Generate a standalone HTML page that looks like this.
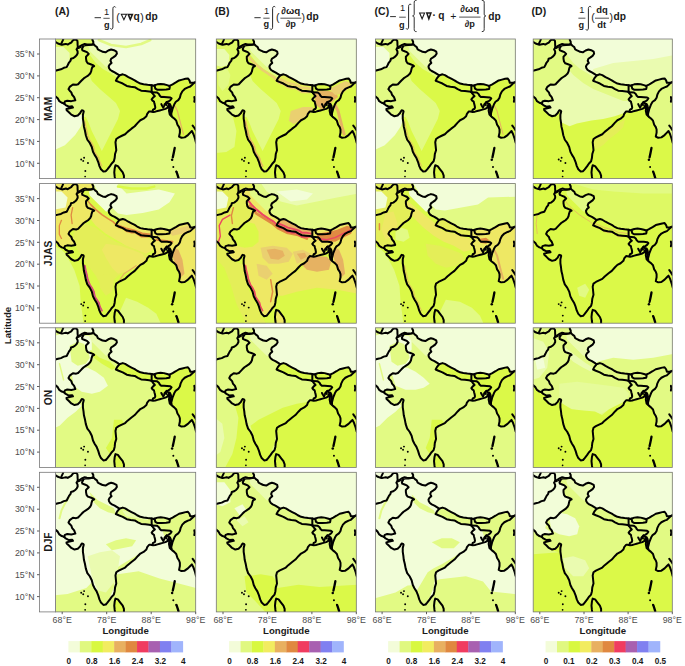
<!DOCTYPE html><html><head><meta charset="utf-8"><style>html,body{margin:0;padding:0;background:#fff;}svg{display:block;}text{font-family:"Liberation Sans",sans-serif;}</style></head><body>
<svg width="685" height="666" viewBox="0 0 685 666">
<rect width="685" height="666" fill="#fff"/>
<defs>
<g id="ol" fill="none" stroke="#000" stroke-width="2.0" stroke-linejoin="round" stroke-linecap="round">
<polyline points="-0.2,2.7 2.4,4.5 4.6,5.3 6.4,5.8 8.6,5.3 10.3,4.9 12.1,5.6 13.8,4.5 15.6,3.6 16.9,1.8 18.2,0.7 20.4,0.5 21.7,1.8 21.9,3.6 21.9,5.3 22.1,7.5 22.2,8.6"/>
<polyline points="5.5,5.1 7.0,1.8 7.7,0.1"/>
<polyline points="22.2,8.6 20.9,10.4 21.9,12.3 22.0,14.2 21.1,16.0 19.9,17.4 17.8,19.0 15.4,19.7 15.0,21.5 13.4,23.5 12.2,26.0 11.1,28.1 8.3,28.8 5.4,30.3 2.6,31.0 -0.2,31.7"/>
<polyline points="22.2,8.6 24.5,7.2 26.7,5.9 29.0,5.0 31.2,5.4 33.5,5.6 35.7,5.4 37.5,5.0 39.3,6.8 41.1,8.1 42.0,10.4 43.8,11.3 45.6,12.2 46.8,12.8 49.6,13.3 52.4,11.5 55.2,10.5 58.0,11.2 60.5,12.6 60.9,14.7 59.4,16.8 57.3,18.3 55.2,19.7 54.5,21.8 55.6,23.9 53.8,25.5 52.8,27.2 53.1,29.0 54.2,30.7 56.0,32.0 58.7,33.3 61.9,35.3 63.3,36.4 66.7,35.3 69.1,36.1 72.3,38.1 75.4,39.7 78.6,41.3 81.0,42.9 84.2,44.5 87.4,45.2 91.4,45.7 95.6,46.1 97.1,46.7 98.7,46.1 101.1,45.3 104.3,44.9 107.5,45.3 110.7,46.1 113.1,46.9 116.2,45.3 119.4,43.4 122.6,41.4 125.8,40.6 129.0,39.8 131.4,39.4 132.9,41.4 133.7,43.8 136.1,43.8 138.5,43.4 139.8,43.0"/>
<polyline points="37.5,5.0 37.5,2.7 36.6,0.9 36.6,0.0"/>
<polyline points="22.8,9.4 25.3,8.2 27.6,7.2 29.8,6.6 32.8,6.5 35.8,6.2 37.5,5.8" stroke-width="1.2"/>
<polyline points="27.6,7.4 26.3,9.9 26.7,11.3 29.0,12.2 31.2,13.1 33.0,14.9 31.7,16.2 30.3,17.6 30.3,19.8 30.8,22.5 32.1,24.3 34.8,25.2 37.1,26.1 38.4,27.0 36.5,28.1 35.8,30.3 35.4,32.4 34.4,34.5 32.3,36.6 30.1,38.0 28.0,39.4 25.9,41.5 24.0,43.5 22.4,45.2 20.5,45.8 17.3,45.4 14.1,47.8 12.9,50.2 14.1,51.7 15.7,53.3 16.5,55.7 18.5,58.1 19.7,61.3 15.7,62.1 11.7,61.7 9.3,62.5 8.6,64.5"/>
<polyline points="-0.2,57.3 2.2,59.3 3.8,62.1 6.2,63.7 8.6,64.5"/>
<polyline points="8.6,64.5 10.1,66.1 13.3,67.7 16.5,67.3 17.3,68.5 14.1,69.2 10.9,70.0 11.1,71.2 13.3,73.2 15.7,75.6 18.9,77.2 22.1,76.4 24.5,74.0 25.3,72.4 26.1,71.2 27.6,71.6 28.0,72.4 27.2,75.6 27.2,79.6 27.8,83.6 28.2,87.4 29.2,91.4 30.1,96.2 31.6,100.7 34.0,103.9 36.0,107.9 37.2,112.7 38.8,115.8 40.8,119.0 42.4,123.0 43.6,127.0 45.1,130.2 47.5,132.5 49.9,132.1 51.5,130.2 54.0,127.0 55.6,124.6 57.9,122.2 58.7,119.0 59.1,115.0 60.3,111.1 59.9,107.1 59.5,103.1 60.3,99.9 62.7,98.3 65.9,96.7 69.1,95.2 71.5,92.8 75.4,89.6 78.6,87.2 81.8,83.6 84.2,81.2 87.4,79.6 90.2,77.2 91.0,74.8 92.9,72.4 94.3,72.5 96.8,73.0 99.0,72.6 101.2,72.0 103.4,71.4 105.6,70.8 109.1,69.8 111.0,68.8 111.8,66.7 112.4,65.2 113.2,66.7 113.0,68.6 112.6,71.7 113.4,75.6 115.6,77.8 117.8,79.5 119.8,81.6 121.0,85.7 122.6,88.1 123.4,90.4 123.4,93.6 122.6,97.5 125.0,98.7 128.2,98.3 131.4,96.0 133.7,93.6 135.3,92.0 136.9,95.2 138.5,99.9 139.3,103.1 139.8,104.2"/>
<polyline points="95.4,53.1 96.3,54.4 97.7,56.2 98.6,57.1 96.8,58.5 95.4,60.3 96.3,61.6 97.7,62.5 98.1,64.3 98.6,66.1 99.0,68.4 98.6,69.7 96.8,70.6 96.3,72.0"/>
<polyline points="95.4,46.1 95.4,49.2 95.4,53.1"/>
<polyline points="63.3,36.4 62.7,37.3 61.1,39.3 59.9,41.7 62.7,42.9 66.7,44.5 70.7,46.9 74.6,47.7 78.6,48.1 81.8,50.0 85.0,51.6 89.0,52.0 92.9,52.4 95.4,52.8"/>
<polyline points="98.3,46.4 98.6,47.7 99.0,49.5 100.8,50.6 105.3,50.6 109.8,50.4 113.0,49.9 113.4,48.1 113.1,46.9"/>
<polyline points="95.4,53.1 100.8,53.5 102.6,54.9 103.5,56.7 104.9,58.0 107.6,58.0 110.7,58.2 113.9,58.5 115.2,59.4 113.9,61.2 112.1,62.5 110.3,63.0 109.4,64.3 109.8,66.1"/>
<polyline points="105.0,65.1 105.8,66.7 107.0,68.7 107.8,66.7 108.3,65.2 109.4,64.3"/>
<polyline points="110.3,63.0 111.6,64.3 113.4,64.8 114.3,66.6 114.8,68.8 114.3,71.5 114.3,74.2 115.0,76.4"/>
<polyline points="139.3,42.8 137.7,43.6 135.3,46.0 133.7,47.5 131.4,48.3 128.2,49.9 125.8,52.3 124.2,55.5 123.4,58.7 121.8,61.1 119.4,62.7 117.9,65.2 117.0,67.5 116.1,69.7 115.7,71.5 115.2,73.3 114.8,75.1 115.0,76.4"/>
<polyline points="137.7,57.9 138.1,60.2 137.7,62.7"/>
<polyline points="136.1,86.5 137.7,88.7 139.3,91.2"/>
<polyline points="67.9,139.7 67.9,136.5 66.7,133.3 64.3,130.2 61.9,127.0 59.5,126.2 58.7,129.4 58.3,133.3 58.7,137.3 59.1,140.2"/>
<polyline points="118.3,108.8 117.4,113.5 116.4,118.2" stroke-width="2.3"/>
<polyline points="120.1,132.8 121.1,135.7 122.0,138.7" stroke-width="2.3"/>
<circle cx="28.4" cy="118.7" r="0.95" fill="#000" stroke="none"/>
<circle cx="25.5" cy="120.4" r="0.95" fill="#000" stroke="none"/>
<circle cx="27.5" cy="121.8" r="0.95" fill="#000" stroke="none"/>
<circle cx="32.2" cy="123.9" r="0.95" fill="#000" stroke="none"/>
<circle cx="29.6" cy="131.9" r="0.95" fill="#000" stroke="none"/>
<circle cx="29.4" cy="137.4" r="0.85" fill="#000" stroke="none"/>
<circle cx="115.7" cy="120.6" r="1.25" fill="#000" stroke="none"/>
<circle cx="116.9" cy="127.8" r="1.0" fill="#000" stroke="none"/>
<circle cx="119.8" cy="132.4" r="1.0" fill="#000" stroke="none"/>
</g>
<polygon id="zTIB" points="37,-1 141,-1 141,43 139.1,43 136,44 134,44 133,41 131,39 129,40 126,41 123,41 119,43 116,45 113,47 111,46 108,45 104,45 101,45 99,46 97,47 96,46 91,46 87,45 84,44 81,43 79,41 75,40 72,38 69,36 67,35 63,36 62,35 59,33 56,32 54,31 53,29 53,27 54,26 56,24 54,22 55,20 57,18 59,17 61,15 60,13 58,11 55,10 52,12 50,13 47,13 46,12 44,11 42,10 41,8 39,7 38,5 38,3"/>
<clipPath id="kTIB"><use href="#zTIB"/></clipPath>
<polygon id="zNW" points="-1,-1 37,-1 38,3 38,5 36,5 34,6 31,5 29,5 28,7 26,10 27,11 29,12 31,13 33,15 32,16 30,18 30,20 31,22 32,24 35,25 37,26 38,27 36,28 36,30 35,32 34,34 32,37 30,38 28,39 26,42 24,44 22,45 20,46 17,45 14,48 13,50 14,52 16,53 16,56 18,58 20,61 16,62 12,62 9,62 9,64 6,64 4,62 2,59 -1,57"/>
<clipPath id="kNW"><use href="#zNW"/></clipPath>
<polygon id="zIND" points="28,7 29,5 31,5 34,6 36,5 38,5 39,7 41,8 42,10 44,11 46,12 47,13 50,13 52,12 55,10 58,11 60,13 61,15 59,17 57,18 55,20 54,22 56,24 54,26 53,27 53,29 54,31 56,32 59,33 62,35 63,36 63,37 61,39 60,42 63,43 67,44 71,47 75,48 79,48 82,50 85,52 89,52 93,52 95,53 96,54 98,56 99,57 97,58 95,60 96,62 98,62 98,64 99,66 99,68 99,70 97,71 96,72 94,72 93,72 91,75 90,77 87,80 84,81 82,84 79,87 75,90 72,93 69,95 66,97 63,98 60,100 60,103 60,107 60,111 59,115 59,119 58,122 56,125 54,127 52,130 50,132 48,132 45,130 44,127 42,123 41,119 39,116 37,113 36,108 34,104 32,101 30,96 29,91 28,87 28,84 27,80 27,76 28,72 26,71 25,72 24,74 22,76 19,77 16,76 13,73 11,71 11,70 14,69 17,68 16,67 13,68 10,66 9,64 9,62 12,62 16,62 20,61 18,58 16,56 16,53 14,52 13,50 14,48 17,45 20,46 22,45 24,44 26,42 28,39 30,38 32,37 34,34 35,32 36,30 36,28 38,27 37,26 35,25 32,24 31,22 30,20 30,18 32,16 33,15 31,13 29,12 27,11 26,10"/>
<clipPath id="kIND"><use href="#zIND"/></clipPath>
<polygon id="zNEP" points="63,36 67,35 69,36 72,38 75,40 79,41 81,43 84,44 87,45 91,46 95,46 95,53 93,52 89,52 85,52 82,50 79,48 75,48 71,47 67,44 63,43 60,42 61,39 63,37"/>
<clipPath id="kNEP"><use href="#zNEP"/></clipPath>
<polygon id="zBHU" points="98,46 99,46 101,45 104,45 108,45 111,46 113,47 113,50 110,50 105,51 101,51 99,50 99,48"/>
<clipPath id="kBHU"><use href="#zBHU"/></clipPath>
<polygon id="zNE" points="95,46 96,46 97,47 99,46 101,45 104,45 108,45 111,46 113,47 116,45 119,43 123,41 126,41 129,40 131,39 133,41 134,44 136,44 138,43 141,43 141,105 139,103 138,100 137,95 135,92 134,94 131,96 128,98 125,99 123,98 123,94 123,90 123,88 121,86 120,83 119,82 117,79 115,77 114,74 113,72 113,69 112,66 111,65 109,67 108,69 105,70 103,71 101,72 99,72 96,72 97,71 99,70 99,68 99,66 98,64 98,62 96,62 95,60 97,58 99,57 98,56 96,54 95,53 95,49"/>
<clipPath id="kNE"><use href="#zNE"/></clipPath>
<polygon id="zSL" points="68,141 68,136 67,133 64,130 62,127 60,126 59,129 58,133 59,137 59,141"/>
<clipPath id="kSL"><use href="#zSL"/></clipPath>
<clipPath id="kP"><rect x="0" y="0" width="139.1" height="139.5"/></clipPath>
</defs>
<g transform="translate(55.5 39.0) scale(1.0079 1.0007)"><g clip-path="url(#kP)">
<rect x="-1" y="-1" width="141.1" height="141.5" fill="#e2fa84"/>
<polygon points="-1,56 2,59 4,62 6,64 9,64 13,68 18,72 24,76 28,76 27,82 25.3,87.3 19.5,96 9.3,106.3 -1,111" fill="#f2fdd8"/>
<use href="#zTIB" fill="#f2fdd8"/>
<g clip-path="url(#kTIB)">
<polyline points="43,1 55,6 70,8 85,5 94,1" fill="none" stroke="#e2fa84" stroke-width="2.5" stroke-linejoin="round" stroke-linecap="round"/>
</g>
<use href="#zNW" fill="#def964"/>
<g clip-path="url(#kNW)">
<polygon points="-1,8 8,8 14,14 14,28 8,30 -1,30" fill="#eafbb0"/>
</g>
<use href="#zIND" fill="#e2fa84"/>
<g clip-path="url(#kIND)">
<polygon points="33,8 38,6 41,8 44,11 47,13 52,12 55,10 58,11 61,15 57,18 54,22 56,24 53,28 50,28 46,24 42,20 38,16 34,12" fill="#eafbb0"/>
<polygon points="28,10 34,16 40,24 47,30 54,34 60,38 60,43 70,47 80,49 90,53 96,54 104,60 104,74 96,80 88,86 80,90 72,96 66,100 64,110 62,120 56,130 50,136 45,132 40,124 36,114 32,104 29,96 26,86 26,78 30,78 33,84 36,92 40,100 44,108 46,112 50,104 54,96 58,88 62,80 64,72 60,64 52,57 44,50 36,42 32,32 28,22" fill="#dbf948"/>
<polyline points="29,82 30,87 31,91 32,96 34,101 36,104 38,108 39,113 41,116 43,119 44,123 46,127" fill="none" stroke="#e6b262" stroke-width="1.0" stroke-linejoin="round" stroke-linecap="round"/>
</g>
<use href="#zNEP" fill="#dbf948"/>
<use href="#zBHU" fill="#dbf948"/>
<use href="#zNE" fill="#dbf948"/>
<g clip-path="url(#kNE)">
<polyline points="106,57 114,59" fill="none" stroke="#e6b262" stroke-width="1.5" stroke-linejoin="round" stroke-linecap="round"/>
<polyline points="118,66 121,72 123,80 125,88 127,95" fill="none" stroke="#e6b262" stroke-width="1.2" stroke-linejoin="round" stroke-linecap="round"/>
</g>
<use href="#zSL" fill="#dbf948"/>
<use href="#ol"/>
</g></g>
<rect x="55.5" y="39.0" width="140.2" height="139.6" fill="none" stroke="#777" stroke-width="0.8"/>
<g transform="translate(216.3 39.0) scale(1.0065 1.0007)"><g clip-path="url(#kP)">
<rect x="-1" y="-1" width="141.1" height="141.5" fill="#dbf948"/>
<polygon points="-1,62 10,66 16,76 20,92 18,108 10,113 -1,114" fill="#e2fa84"/>
<use href="#zTIB" fill="#f2fdd8"/>
<use href="#zNW" fill="#def964"/>
<g clip-path="url(#kNW)">
<polygon points="-1,10 8,10 13,16 12,26 5,28 -1,26" fill="#eafbb0"/>
<polygon points="2,30 10,28 14,36 12,46 6,52 2,46" fill="#e2fa84"/>
</g>
<use href="#zIND" fill="#e2fa84"/>
<g clip-path="url(#kIND)">
<polygon points="33,8 38,6 41,8 44,11 47,13 52,12 55,10 58,11 61,15 57,18 54,22 56,24 53,28 50,28 46,24 42,20 38,16 34,12" fill="#eafbb0"/>
<polygon points="28,10 34,16 40,24 47,30 54,34 60,38 60,43 70,47 80,49 90,53 96,54 104,60 104,74 96,80 88,86 80,90 72,96 66,100 64,110 62,120 56,130 50,136 45,132 40,124 36,114 32,104 29,96 26,86 26,78 30,78 33,84 36,92 40,100 44,108 46,112 50,104 54,96 58,88 62,80 64,72 60,64 52,57 44,50 36,42 32,32 28,22" fill="#dbf948"/>
<polyline points="31,16 35,21 40,26 46,31 52,35 57,38 60,41 63,44 67,45 71,48 75,49 79,49 82,51 85,53 89,53 93,53" fill="none" stroke="#ead070" stroke-width="2.6" stroke-linejoin="round" stroke-linecap="round"/>
<polyline points="29,82 30,87 31,91 32,96 34,101 36,104 38,108 39,113 41,116 43,119 44,123 46,127" fill="none" stroke="#e6b262" stroke-width="1.6" stroke-linejoin="round" stroke-linecap="round"/>
<polygon points="74,72 86,68 96,68 96,72 90,77 84,81 77,85 72,82" fill="#ead070"/>
</g>
<use href="#zNEP" fill="#e4ee58"/>
<g clip-path="url(#kNEP)">
<polyline points="62,40 67,42 71,44 75,45 79,46 82,47 85,49 89,49 94,50" fill="none" stroke="#ead070" stroke-width="2.5" stroke-linejoin="round" stroke-linecap="round"/>
</g>
<use href="#zBHU" fill="#dbf948"/>
<use href="#zNE" fill="#dbf948"/>
<g clip-path="url(#kNE)">
<polygon points="97,53 104,52 112,52 119,54 121,58 116,62 112,66 110,70 104,70 99,66 98,60" fill="#e6b262"/>
<polygon points="112,50 120,46 128,42 134,44 131,50 124,55 118,56" fill="#ead070"/>
<polyline points="118,66 121,72 123,80 125,88 127,95" fill="none" stroke="#e6b262" stroke-width="3.0" stroke-linejoin="round" stroke-linecap="round"/>
</g>
<use href="#zSL" fill="#dbf948"/>
<use href="#ol"/>
</g></g>
<rect x="216.3" y="39.0" width="140.0" height="139.6" fill="none" stroke="#777" stroke-width="0.8"/>
<g transform="translate(375.4 39.0) scale(1.0058 1.0007)"><g clip-path="url(#kP)">
<rect x="-1" y="-1" width="141.1" height="141.5" fill="#e2fa84"/>
<polygon points="-1,56 2,59 4,62 6,64 9,64 13,68 18,72 24,76 28,76 27,82 25.3,87.3 19.5,96 9.3,106.3 -1,111" fill="#f2fdd8"/>
<use href="#zTIB" fill="#f2fdd8"/>
<use href="#zNW" fill="#e2fa84"/>
<g clip-path="url(#kNW)">
<polygon points="-1,8 8,8 14,14 14,28 8,30 -1,30" fill="#f2fdd8"/>
</g>
<use href="#zIND" fill="#e2fa84"/>
<g clip-path="url(#kIND)">
<polygon points="33,8 38,6 41,8 44,11 47,13 52,12 55,10 58,11 61,15 57,18 54,22 56,24 53,28 50,28 46,24 42,20 38,16 34,12" fill="#eafbb0"/>
<polygon points="28,10 34,16 40,24 47,30 54,34 60,38 60,43 70,47 80,49 90,53 96,54 104,60 104,74 96,80 88,86 80,90 72,96 66,100 64,110 62,120 56,130 50,136 45,132 40,124 36,114 32,104 29,96 26,86 26,78 30,78 33,84 36,92 40,100 44,108 46,112 50,104 54,96 58,88 62,80 64,72 60,64 52,57 44,50 36,42 32,32 28,22" fill="#dbf948"/>
<polyline points="29,82 30,87 31,91 32,96 34,101 36,104 38,108 39,113 41,116 43,119 44,123 46,127" fill="none" stroke="#e6b262" stroke-width="0.8" stroke-linejoin="round" stroke-linecap="round"/>
</g>
<use href="#zNEP" fill="#dbf948"/>
<use href="#zBHU" fill="#dbf948"/>
<use href="#zNE" fill="#dbf948"/>
<g clip-path="url(#kNE)">
<polyline points="106,57 114,59" fill="none" stroke="#e6b262" stroke-width="1.5" stroke-linejoin="round" stroke-linecap="round"/>
<polyline points="118,66 121,72 123,80 125,88 127,95" fill="none" stroke="#e6b262" stroke-width="1.0" stroke-linejoin="round" stroke-linecap="round"/>
</g>
<use href="#zSL" fill="#dbf948"/>
<use href="#ol"/>
</g></g>
<rect x="375.4" y="39.0" width="139.9" height="139.6" fill="none" stroke="#777" stroke-width="0.8"/>
<g transform="translate(533.2 39.0) scale(1.0000 1.0007)"><g clip-path="url(#kP)">
<rect x="-1" y="-1" width="141.1" height="141.5" fill="#dbf948"/>
<polygon points="60,100 64,96 72,92 80,88 86,84 92,80 90,88 84,94 76,100 70,106 64,110 60,108" fill="#e4ee58"/>
<use href="#zTIB" fill="#f2fdd8"/>
<g clip-path="url(#kTIB)">
<polygon points="60,30 80,24 100,22 120,20 141,16 141,46 60,46" fill="#eafbb0"/>
</g>
<use href="#zNW" fill="#e2fa84"/>
<use href="#zIND" fill="#eafbb0"/>
<g clip-path="url(#kIND)">
<polygon points="33,8 38,6 41,8 44,11 47,13 52,12 55,10 58,11 61,15 57,18 54,22 56,24 53,28 50,28 46,24 42,20 38,16 34,12" fill="#eafbb0"/>
<polygon points="24,84 27.5,82.9 36.3,87.3 43.6,84.4 58.2,81.4 69.9,80 81.6,77.1 90.3,74.1 96,72 100,70 100,141 20,141" fill="#dbf948"/>
<polygon points="28,10 34,16 40,24 47,30 54,34 60,38 60,43 70,47 80,49 90,53 96,54 98,62 90,62 80,58 70,54 60,50 50,44 40,36 32,26" fill="#e2fa84"/>
</g>
<use href="#zNEP" fill="#e2fa84"/>
<use href="#zBHU" fill="#e2fa84"/>
<use href="#zNE" fill="#e2fa84"/>
<use href="#zSL" fill="#dbf948"/>
<use href="#ol"/>
</g></g>
<rect x="533.2" y="39.0" width="139.1" height="139.6" fill="none" stroke="#777" stroke-width="0.8"/>
<rect x="39.4" y="39.0" width="16.1" height="139.6" fill="#fff" stroke="#777" stroke-width="0.8"/>
<text x="0" y="0" transform="translate(51.8 108.8) rotate(-90)" text-anchor="middle" font-size="10.2" font-weight="bold" fill="#1a1a1a">MAM</text>
<line x1="37" x2="39.4" y1="54.0" y2="54.0" stroke="#333" stroke-width="0.8"/>
<text x="34.6" y="57.2" text-anchor="end" font-size="8.8" fill="#4d4d4d">35°N</text>
<line x1="37" x2="39.4" y1="75.9" y2="75.9" stroke="#333" stroke-width="0.8"/>
<text x="34.6" y="79.1" text-anchor="end" font-size="8.8" fill="#4d4d4d">30°N</text>
<line x1="37" x2="39.4" y1="97.7" y2="97.7" stroke="#333" stroke-width="0.8"/>
<text x="34.6" y="100.9" text-anchor="end" font-size="8.8" fill="#4d4d4d">25°N</text>
<line x1="37" x2="39.4" y1="119.6" y2="119.6" stroke="#333" stroke-width="0.8"/>
<text x="34.6" y="122.8" text-anchor="end" font-size="8.8" fill="#4d4d4d">20°N</text>
<line x1="37" x2="39.4" y1="141.4" y2="141.4" stroke="#333" stroke-width="0.8"/>
<text x="34.6" y="144.6" text-anchor="end" font-size="8.8" fill="#4d4d4d">15°N</text>
<line x1="37" x2="39.4" y1="163.3" y2="163.3" stroke="#333" stroke-width="0.8"/>
<text x="34.6" y="166.5" text-anchor="end" font-size="8.8" fill="#4d4d4d">10°N</text>
<g transform="translate(55.5 183.6) scale(1.0079 1.0007)"><g clip-path="url(#kP)">
<rect x="-1" y="-1" width="141.1" height="141.5" fill="#dbf948"/>
<polygon points="-1,62 6,66 10,70 18.7,86.4 24,102.4 25,118.4 27.2,134.4 28,141 -1,141" fill="#e2fa84"/>
<polygon points="58,141 70,114 81,118 92,124 100,130 105,141" fill="#e2fa84"/>
<use href="#zTIB" fill="#e2fa84"/>
<g clip-path="url(#kTIB)">
<polygon points="37,-1 60,-1 70.5,10 102.5,5.8 118.5,10 113.1,18.6 102.5,26 86.5,29.3 70.5,31.4 62,30 56,24 50,16 42,8" fill="#f2fdd8"/>
<polyline points="62,3 75,5 90,5 98,3" fill="none" stroke="#dbf948" stroke-width="2.5" stroke-linejoin="round" stroke-linecap="round"/>
</g>
<use href="#zNW" fill="#eee864"/>
<g clip-path="url(#kNW)">
<polygon points="-1,8 6,8 12,14 10,24 -1,26" fill="#f2fdd8"/>
<polyline points="17,24 15.5,31.4 16.5,40" fill="none" stroke="#e08a42" stroke-width="1.3" stroke-linejoin="round" stroke-linecap="round"/>
<polyline points="5.9,36.7 3.8,42 3.8,50.6 5.9,54.8" fill="none" stroke="#e08a42" stroke-width="1.3" stroke-linejoin="round" stroke-linecap="round"/>
</g>
<use href="#zIND" fill="#dbf948"/>
<g clip-path="url(#kIND)">
<polygon points="33,8 38,6 41,8 44,11 47,13 52,12 55,10 58,11 61,15 57,18 54,22 56,24 53,28 50,28 46,24 42,20 38,16 34,12" fill="#f2fdd8"/>
<polygon points="20,44 30,40 40,44 50,52 60,58 70,62 80,66 90,70 96,72 90,78 80,84 70,88 62,92 56,98 50,104 44,100 40,92 34,84 28,76 22,66 16,56" fill="#e4ee58"/>
<polygon points="30,18 40,26 52,35 60,40 62,44 70,48 80,50 90,54 96,56 97,66 90,70 80,66 70,62 60,56 50,50 40,42 32,32 28,24" fill="#eee864"/>
<polygon points="50,60 64,62 76,66 86,70 90,76 80,84 70,88 62,90 56,84 50,74 46,66" fill="#eee864"/>
<polygon points="44,92 52,90 58,96 56,108 50,112 44,104" fill="#e4ee58"/>
<polyline points="31,16 35,21 40,26 46,31 52,35 57,38 60,41 63,44 67,45 71,48 75,49 79,49 82,51 85,53 89,53 93,53" fill="none" stroke="#e08a42" stroke-width="1.5" stroke-linejoin="round" stroke-linecap="round"/>
<polyline points="29,82 30,87 31,91 32,96 34,101 36,104 38,108 39,113 41,116 43,119 44,123 46,127" fill="none" stroke="#ec4862" stroke-width="1.9" stroke-linejoin="round" stroke-linecap="round"/>
<polyline points="29,82 30,87 31,91 32,96 34,101 36,104 38,108 39,113 41,116 43,119 44,123 46,127" fill="none" stroke="#a860b0" stroke-width="0.6" stroke-linejoin="round" stroke-linecap="round"/>
<polyline points="64,96 68,90 74,86 80,82" fill="none" stroke="#e6b262" stroke-width="1.2" stroke-linejoin="round" stroke-linecap="round"/>
</g>
<use href="#zNEP" fill="#eee864"/>
<g clip-path="url(#kNEP)">
<polyline points="62,42 70,45 78,47 86,50 94,51" fill="none" stroke="#e08a42" stroke-width="2.2" stroke-linejoin="round" stroke-linecap="round"/>
</g>
<use href="#zBHU" fill="#e2fa84"/>
<use href="#zNE" fill="#eee864"/>
<g clip-path="url(#kNE)">
<polyline points="100,56 108,57 116,58" fill="none" stroke="#e08a42" stroke-width="2.0" stroke-linejoin="round" stroke-linecap="round"/>
<polygon points="118,64 122,66 126,76 128,90 124,94 120,84 116,72" fill="#e6b262"/>
<polygon points="112,48 124,44 132,42 134,46 126,50 116,52" fill="#ead070"/>
</g>
<use href="#zSL" fill="#dbf948"/>
<use href="#ol"/>
</g></g>
<rect x="55.5" y="183.6" width="140.2" height="139.6" fill="none" stroke="#777" stroke-width="0.8"/>
<g transform="translate(216.3 183.6) scale(1.0065 1.0007)"><g clip-path="url(#kP)">
<rect x="-1" y="-1" width="141.1" height="141.5" fill="#dbf948"/>
<polygon points="-1,58 4,62 9,64 12,72 18,78 24,80 27,80 28,90 30,100 34,110 40,122 46,134 50,141 30,141 20,120 14,100 8,84 -1,74" fill="#e4ee58"/>
<polygon points="60,100 70,94 80,88 90,80 96,74 110,74 124,80 141,82 141,110 120,106 100,104 80,108 66,112 60,112" fill="#eee864"/>
<polygon points="86,74 96,72 110,73 114,78 112,86 100,88 90,86 84,80" fill="#e6b262"/>
<use href="#zTIB" fill="#e2fa84"/>
<g clip-path="url(#kTIB)">
<polygon points="44,-1 141,-1 141,10 120,14 100,18 80,22 64,18 50,8" fill="#eafbb0"/>
<polygon points="60,8 80,6 96,10 90,16 74,18" fill="#f2fdd8"/>
</g>
<use href="#zNW" fill="#e4ee58"/>
<g clip-path="url(#kNW)">
<polyline points="13.6,31.4 6.1,35.7 2.9,42 4,52.7 1.8,59.1" fill="none" stroke="#ec4862" stroke-width="1.4" stroke-linejoin="round" stroke-linecap="round"/>
<polyline points="17,24 15,32 16,40" fill="none" stroke="#e08a42" stroke-width="1.4" stroke-linejoin="round" stroke-linecap="round"/>
<polygon points="-1,8 6,8 12,14 10,24 -1,26" fill="#f2fdd8"/>
</g>
<use href="#zIND" fill="#eee864"/>
<g clip-path="url(#kIND)">
<polygon points="33,8 38,6 41,8 44,11 47,13 52,12 55,10 58,11 61,15 57,18 54,22 56,24 53,28 50,28 46,24 42,20 38,16 34,12" fill="#e2fa84"/>
<polygon points="14,48 20,44 30,38 38,40 42,48 42,58 36,63 28,64 20,62 16,56" fill="#dbf948"/>
<polygon points="44,64 56,62 70,64 76,70 72,78 62,80 52,80 46,74" fill="#ead070"/>
<polygon points="76,68 86,66 94,70 90,76 80,80" fill="#ead070"/>
<polygon points="50,66 58,65 66,67 68,72 62,76 54,75" fill="#e6b262"/>
<polygon points="80,70 88,69 90,73 84,76" fill="#e6b262"/>
<polygon points="40,80 50,82 56,90 50,96 42,92" fill="#ead070"/>
<polyline points="33,22 40,30 48,35 56,40 62,45 70,49 80,51 90,55" fill="none" stroke="#e08a42" stroke-width="2.6" stroke-linejoin="round" stroke-linecap="round"/>
<polyline points="31,16 35,21 40,26 46,31 52,35 57,38 60,41 63,44 67,45 71,48 75,49 79,49 82,51 85,53 89,53 93,53" fill="none" stroke="#ec4862" stroke-width="2.0" stroke-linejoin="round" stroke-linecap="round"/>
<polyline points="29,82 30,87 31,91 32,96 34,101 36,104 38,108 39,113 41,116 43,119 44,123 46,127" fill="none" stroke="#ec4862" stroke-width="1.6" stroke-linejoin="round" stroke-linecap="round"/>
<polyline points="54,96 56,108 54,118" fill="none" stroke="#e08a42" stroke-width="1.5" stroke-linejoin="round" stroke-linecap="round"/>
</g>
<use href="#zNEP" fill="#e6b262"/>
<g clip-path="url(#kNEP)">
<polyline points="62,40 67,42 71,44 75,45 79,46 82,47 85,49 89,49 94,50" fill="none" stroke="#ec4862" stroke-width="2.0" stroke-linejoin="round" stroke-linecap="round"/>
</g>
<use href="#zBHU" fill="#e2d05a"/>
<use href="#zNE" fill="#eee864"/>
<g clip-path="url(#kNE)">
<polygon points="100,50 112,48 120,46 130,42 136,44 134,50 126,54 118,58 108,58 100,56" fill="#e08a42"/>
<polyline points="102,55 110,56 118,54 126,50 134,46" fill="none" stroke="#ec4862" stroke-width="1.5" stroke-linejoin="round" stroke-linecap="round"/>
<polygon points="118,64 122,66 126,76 128,90 124,94 120,84 116,72" fill="#e6b262"/>
</g>
<use href="#zSL" fill="#eee864"/>
<use href="#ol"/>
</g></g>
<rect x="216.3" y="183.6" width="140.0" height="139.6" fill="none" stroke="#777" stroke-width="0.8"/>
<g transform="translate(375.4 183.6) scale(1.0058 1.0007)"><g clip-path="url(#kP)">
<rect x="-1" y="-1" width="141.1" height="141.5" fill="#dbf948"/>
<polygon points="-1,62 6,66 10,70 18.7,86.4 24,102.4 25,118.4 27.2,134.4 28,141 -1,141" fill="#e2fa84"/>
<polygon points="58,141 70,116 84,118 96,124 104,132 108,141" fill="#e2fa84"/>
<use href="#zTIB" fill="#e2fa84"/>
<g clip-path="url(#kTIB)">
<polygon points="37,-1 141,-1 141,13 112,14 102,21 80,25 69,27 60,26 52,18 44,10" fill="#f2fdd8"/>
</g>
<use href="#zNW" fill="#e4ee58"/>
<g clip-path="url(#kNW)">
<polygon points="-1,8 6,8 12,14 10,24 -1,26" fill="#f2fdd8"/>
<polygon points="10,30 18,28 22,40 18,52 10,56 6,46" fill="#eee864"/>
<polyline points="4,40 4,46" fill="none" stroke="#e08a42" stroke-width="1.5" stroke-linejoin="round" stroke-linecap="round"/>
</g>
<use href="#zIND" fill="#dbf948"/>
<g clip-path="url(#kIND)">
<polygon points="33,8 38,6 41,8 44,11 47,13 52,12 55,10 58,11 61,15 57,18 54,22 56,24 53,28 50,28 46,24 42,20 38,16 34,12" fill="#f2fdd8"/>
<polygon points="30,16 40,24 52,34 60,40 62,44 70,48 80,50 90,54 96,56 96,66 88,68 78,62 68,58 58,52 48,44 40,36 32,28" fill="#eee864"/>
<polygon points="50,60 64,62 76,66 86,70 88,76 80,82 70,84 60,80 52,72" fill="#e4ee58"/>
<polygon points="20,48 26,44 32,46 34,54 28,58 20,56" fill="#e2fa84"/>
<polyline points="29,82 30,87 31,91 32,96 34,101 36,104 38,108 39,113 41,116 43,119 44,123 46,127" fill="none" stroke="#e6b262" stroke-width="0.8" stroke-linejoin="round" stroke-linecap="round"/>
</g>
<use href="#zNEP" fill="#e4ee58"/>
<use href="#zBHU" fill="#e2fa84"/>
<use href="#zNE" fill="#eee864"/>
<g clip-path="url(#kNE)">
<polygon points="104,55 110,54 114,57 110,60 104,59" fill="#e08a42"/>
<polyline points="118,66 121,72 123,80 125,88 127,95" fill="none" stroke="#e6b262" stroke-width="2.0" stroke-linejoin="round" stroke-linecap="round"/>
</g>
<use href="#zSL" fill="#dbf948"/>
<use href="#ol"/>
</g></g>
<rect x="375.4" y="183.6" width="139.9" height="139.6" fill="none" stroke="#777" stroke-width="0.8"/>
<g transform="translate(533.2 183.6) scale(1.0000 1.0007)"><g clip-path="url(#kP)">
<rect x="-1" y="-1" width="141.1" height="141.5" fill="#dbf948"/>
<use href="#zTIB" fill="#def964"/>
<g clip-path="url(#kTIB)">
<polygon points="37,-1 141,-1 141,10 110,10 80,8 60,6" fill="#e2fa84"/>
</g>
<use href="#zNW" fill="#dbf948"/>
<g clip-path="url(#kNW)">
<polyline points="4,30 3,40 4,50" fill="none" stroke="#e6b262" stroke-width="0.8" stroke-linejoin="round" stroke-linecap="round"/>
</g>
<use href="#zIND" fill="#dbf948"/>
<g clip-path="url(#kIND)">
<polygon points="33,8 38,6 41,8 44,11 47,13 52,12 55,10 58,11 61,15 57,18 54,22 56,24 53,28 50,28 46,24 42,20 38,16 34,12" fill="#e2fa84"/>
<polyline points="31,16 35,21 40,26 46,31 52,35 57,38 60,41 63,44 67,45 71,48 75,49 79,49 82,51 85,53 89,53 93,53" fill="none" stroke="#e6b262" stroke-width="0.8" stroke-linejoin="round" stroke-linecap="round"/>
<polygon points="44,104 52,100 56,106 52,114 46,112" fill="#e2fa84"/>
</g>
<use href="#zNEP" fill="#dbf948"/>
<g clip-path="url(#kNEP)">
<polyline points="62,40 67,42 71,44 75,45 79,46 82,47 85,49 89,49 94,50" fill="none" stroke="#e6b262" stroke-width="0.8" stroke-linejoin="round" stroke-linecap="round"/>
</g>
<use href="#zBHU" fill="#dbf948"/>
<use href="#zNE" fill="#dbf948"/>
<use href="#zSL" fill="#dbf948"/>
<use href="#ol"/>
</g></g>
<rect x="533.2" y="183.6" width="139.1" height="139.6" fill="none" stroke="#777" stroke-width="0.8"/>
<rect x="39.4" y="183.6" width="16.1" height="139.6" fill="#fff" stroke="#777" stroke-width="0.8"/>
<text x="0" y="0" transform="translate(51.8 253.4) rotate(-90)" text-anchor="middle" font-size="10.2" font-weight="bold" fill="#1a1a1a">JJAS</text>
<line x1="37" x2="39.4" y1="198.6" y2="198.6" stroke="#333" stroke-width="0.8"/>
<text x="34.6" y="201.8" text-anchor="end" font-size="8.8" fill="#4d4d4d">35°N</text>
<line x1="37" x2="39.4" y1="220.5" y2="220.5" stroke="#333" stroke-width="0.8"/>
<text x="34.6" y="223.7" text-anchor="end" font-size="8.8" fill="#4d4d4d">30°N</text>
<line x1="37" x2="39.4" y1="242.3" y2="242.3" stroke="#333" stroke-width="0.8"/>
<text x="34.6" y="245.5" text-anchor="end" font-size="8.8" fill="#4d4d4d">25°N</text>
<line x1="37" x2="39.4" y1="264.2" y2="264.2" stroke="#333" stroke-width="0.8"/>
<text x="34.6" y="267.4" text-anchor="end" font-size="8.8" fill="#4d4d4d">20°N</text>
<line x1="37" x2="39.4" y1="286.0" y2="286.0" stroke="#333" stroke-width="0.8"/>
<text x="34.6" y="289.2" text-anchor="end" font-size="8.8" fill="#4d4d4d">15°N</text>
<line x1="37" x2="39.4" y1="307.9" y2="307.9" stroke="#333" stroke-width="0.8"/>
<text x="34.6" y="311.1" text-anchor="end" font-size="8.8" fill="#4d4d4d">10°N</text>
<g transform="translate(55.5 327.8) scale(1.0079 1.0007)"><g clip-path="url(#kP)">
<rect x="-1" y="-1" width="141.1" height="141.5" fill="#e2fa84"/>
<polygon points="-1,57 2,59 4,62 6,64 9,64 13,68 20,72 26,78 20,84 12,90 4,98 -1,100" fill="#f2fdd8"/>
<use href="#zTIB" fill="#f2fdd8"/>
<use href="#zNW" fill="#f2fdd8"/>
<g clip-path="url(#kNW)">
<polygon points="-1,-1 8,-1 6,6 -1,8" fill="#e2fa84"/>
<polygon points="14,18 22,14 28,16 32,22 34,30 30,36 22,38 16,34" fill="#e2fa84"/>
<polyline points="4,36 6,44 8,52" fill="none" stroke="#e2fa84" stroke-width="1.5" stroke-linejoin="round" stroke-linecap="round"/>
</g>
<use href="#zIND" fill="#e2fa84"/>
<g clip-path="url(#kIND)">
<polygon points="33,8 38,6 41,8 44,11 47,13 52,12 55,10 58,11 61,15 57,18 54,22 56,24 53,28 50,28 46,24 42,20 38,16 34,12" fill="#eafbb0"/>
<polygon points="27,8 33,8 36,14 36,22 32,26 28,22 26,14" fill="#f2fdd8"/>
<polygon points="16,44 24,40 32,40 40,44 48,50 52,58 44,64 36,66 26,64 18,58" fill="#f2fdd8"/>
<polygon points="58,92 66,92 70,100 72,108 66,116 60,122 54,126 50,120 56,110" fill="#dbf948"/>
<polygon points="34,22 44,30 54,34 60,40 56,42 46,36 38,30" fill="#dbf948"/>
</g>
<use href="#zNEP" fill="#dbf948"/>
<use href="#zBHU" fill="#dbf948"/>
<use href="#zNE" fill="#dbf948"/>
<use href="#zSL" fill="#dbf948"/>
<use href="#ol"/>
</g></g>
<rect x="55.5" y="327.8" width="140.2" height="139.6" fill="none" stroke="#777" stroke-width="0.8"/>
<g transform="translate(216.3 327.8) scale(1.0065 1.0007)"><g clip-path="url(#kP)">
<rect x="-1" y="-1" width="141.1" height="141.5" fill="#dbf948"/>
<polygon points="-1,60 10,66 18,76 22,90 20,110 16,126 8,141 -1,141" fill="#e2fa84"/>
<polygon points="-1,90 6,96 8,110 4,124 -1,128" fill="#eafbb0"/>
<use href="#zTIB" fill="#f2fdd8"/>
<use href="#zNW" fill="#e2fa84"/>
<use href="#zIND" fill="#e2fa84"/>
<g clip-path="url(#kIND)">
<polygon points="33,8 38,6 41,8 44,11 47,13 52,12 55,10 58,11 61,15 57,18 54,22 56,24 53,28 50,28 46,24 42,20 38,16 34,12" fill="#eafbb0"/>
<polygon points="34,98 42,92 54,86 66,80 80,76 92,74 96,72 66,97 60,100 58,115 52,130 46,132 40,118" fill="#dbf948"/>
</g>
<use href="#zNEP" fill="#dbf948"/>
<use href="#zBHU" fill="#dbf948"/>
<use href="#zNE" fill="#dbf948"/>
<use href="#zSL" fill="#dbf948"/>
<use href="#ol"/>
</g></g>
<rect x="216.3" y="327.8" width="140.0" height="139.6" fill="none" stroke="#777" stroke-width="0.8"/>
<g transform="translate(375.4 327.8) scale(1.0058 1.0007)"><g clip-path="url(#kP)">
<rect x="-1" y="-1" width="141.1" height="141.5" fill="#e2fa84"/>
<polygon points="-1,57 2,59 4,62 6,64 9,64 13,68 20,72 26,78 20,84 12,90 4,98 -1,100" fill="#f2fdd8"/>
<use href="#zTIB" fill="#f2fdd8"/>
<use href="#zNW" fill="#f2fdd8"/>
<g clip-path="url(#kNW)">
<polygon points="-1,-1 8,-1 6,6 -1,8" fill="#e2fa84"/>
<polygon points="14,18 22,14 28,16 32,22 34,30 30,36 22,38 16,34" fill="#e2fa84"/>
<polyline points="4,36 6,44 8,52" fill="none" stroke="#e2fa84" stroke-width="1.5" stroke-linejoin="round" stroke-linecap="round"/>
</g>
<use href="#zIND" fill="#e2fa84"/>
<g clip-path="url(#kIND)">
<polygon points="33,8 38,6 41,8 44,11 47,13 52,12 55,10 58,11 61,15 57,18 54,22 56,24 53,28 50,28 46,24 42,20 38,16 34,12" fill="#eafbb0"/>
<polygon points="27,8 33,8 36,14 36,22 32,26 28,22 26,14" fill="#f2fdd8"/>
<polygon points="16,44 24,40 32,40 40,44 48,50 54,56 48,60 40,62 30,62 20,58" fill="#f2fdd8"/>
<polygon points="56,92 66,92 72,100 72,108 66,116 60,122 54,126 50,120 54,110" fill="#dbf948"/>
</g>
<use href="#zNEP" fill="#dbf948"/>
<use href="#zBHU" fill="#dbf948"/>
<use href="#zNE" fill="#dbf948"/>
<use href="#zSL" fill="#dbf948"/>
<use href="#ol"/>
</g></g>
<rect x="375.4" y="327.8" width="139.9" height="139.6" fill="none" stroke="#777" stroke-width="0.8"/>
<g transform="translate(533.2 327.8) scale(1.0000 1.0007)"><g clip-path="url(#kP)">
<rect x="-1" y="-1" width="141.1" height="141.5" fill="#dbf948"/>
<use href="#zTIB" fill="#f2fdd8"/>
<g clip-path="url(#kTIB)">
<polygon points="64,34 80,30 100,32 120,30 141,26 141,46 60,46" fill="#e2fa84"/>
</g>
<use href="#zNW" fill="#e2fa84"/>
<g clip-path="url(#kNW)">
<polygon points="-1,10 10,14 16,24 14,40 6,50 -1,52" fill="#eafbb0"/>
<polygon points="2,32 10,30 12,40 4,42" fill="#f2fdd8"/>
</g>
<use href="#zIND" fill="#e2fa84"/>
<g clip-path="url(#kIND)">
<polygon points="33,8 38,6 41,8 44,11 47,13 52,12 55,10 58,11 61,15 57,18 54,22 56,24 53,28 50,28 46,24 42,20 38,16 34,12" fill="#eafbb0"/>
<polygon points="26,56 44,54 60,56 76,58 90,60 96,66 92,74 80,80 68,86 50,84 34,80 26,72" fill="#e6fb9a"/>
<polygon points="30,18 40,26 52,35 60,40 58,44 50,40 40,34 32,26" fill="#eafbb0"/>
<polygon points="24,76 29,75.6 38.5,81.4 50.2,82.6 61.8,83.7 68.8,87.2 75.8,81.4 85.2,76.7 92.2,73.2 100,70 100,141 20,141" fill="#dbf948"/>
</g>
<use href="#zNEP" fill="#e2fa84"/>
<use href="#zBHU" fill="#e2fa84"/>
<use href="#zNE" fill="#e2fa84"/>
<use href="#zSL" fill="#dbf948"/>
<use href="#ol"/>
</g></g>
<rect x="533.2" y="327.8" width="139.1" height="139.6" fill="none" stroke="#777" stroke-width="0.8"/>
<rect x="39.4" y="327.8" width="16.1" height="139.6" fill="#fff" stroke="#777" stroke-width="0.8"/>
<text x="0" y="0" transform="translate(51.8 397.6) rotate(-90)" text-anchor="middle" font-size="10.2" font-weight="bold" fill="#1a1a1a">ON</text>
<line x1="37" x2="39.4" y1="342.8" y2="342.8" stroke="#333" stroke-width="0.8"/>
<text x="34.6" y="346.0" text-anchor="end" font-size="8.8" fill="#4d4d4d">35°N</text>
<line x1="37" x2="39.4" y1="364.7" y2="364.7" stroke="#333" stroke-width="0.8"/>
<text x="34.6" y="367.9" text-anchor="end" font-size="8.8" fill="#4d4d4d">30°N</text>
<line x1="37" x2="39.4" y1="386.5" y2="386.5" stroke="#333" stroke-width="0.8"/>
<text x="34.6" y="389.7" text-anchor="end" font-size="8.8" fill="#4d4d4d">25°N</text>
<line x1="37" x2="39.4" y1="408.4" y2="408.4" stroke="#333" stroke-width="0.8"/>
<text x="34.6" y="411.6" text-anchor="end" font-size="8.8" fill="#4d4d4d">20°N</text>
<line x1="37" x2="39.4" y1="430.2" y2="430.2" stroke="#333" stroke-width="0.8"/>
<text x="34.6" y="433.4" text-anchor="end" font-size="8.8" fill="#4d4d4d">15°N</text>
<line x1="37" x2="39.4" y1="452.1" y2="452.1" stroke="#333" stroke-width="0.8"/>
<text x="34.6" y="455.3" text-anchor="end" font-size="8.8" fill="#4d4d4d">10°N</text>
<g transform="translate(55.5 472.3) scale(1.0079 1.0007)"><g clip-path="url(#kP)">
<rect x="-1" y="-1" width="141.1" height="141.5" fill="#f2fdd8"/>
<polygon points="-1,123 12,121.7 30.6,115.5 36.8,109.3 61.7,102 82.5,98.9 103.2,106.2 115.7,109.3 141,116 141,141 -1,141" fill="#e2fa84"/>
<use href="#zTIB" fill="#f2fdd8"/>
<use href="#zNW" fill="#f2fdd8"/>
<g clip-path="url(#kNW)">
<polyline points="4,46 6,38 10,30 14,24" fill="none" stroke="#e2fa84" stroke-width="2.0" stroke-linejoin="round" stroke-linecap="round"/>
</g>
<use href="#zIND" fill="#f2fdd8"/>
<g clip-path="url(#kIND)">
<polygon points="33,8 38,6 41,8 44,11 47,13 52,12 55,10 58,11 61,15 57,18 54,22 56,24 53,28 50,28 46,24 42,20 38,16 34,12" fill="#f2fdd8"/>
<polygon points="34,20 42,28 50,32 58,36 60,42 52,40 44,36 36,28" fill="#e2fa84"/>
<polygon points="40,120 46,110 52,100 60,96 66,92 76,86 86,80 94,74 96,72 66,97 60,100 58,115 52,130 46,132" fill="#e2fa84"/>
<polygon points="50,72 60,68 70,66 80,68 76,74 66,76 56,78" fill="#e2fa84"/>
<polygon points="32,84 44,80 56,78 64,84 62,96 58,110 50,120 42,118 36,104" fill="#eafbb0"/>
</g>
<use href="#zNEP" fill="#e2fa84"/>
<g clip-path="url(#kNEP)">
<polygon points="66,38 90,44 92,48 70,44" fill="#eafbb0"/>
</g>
<use href="#zBHU" fill="#e2fa84"/>
<use href="#zNE" fill="#e2fa84"/>
<g clip-path="url(#kNE)">
<polygon points="95,53 102,54 106,58 108,64 106,70 100,72 96,72 95,60" fill="#f2fdd8"/>
</g>
<use href="#zSL" fill="#dbf948"/>
<use href="#ol"/>
</g></g>
<rect x="55.5" y="472.3" width="140.2" height="139.6" fill="none" stroke="#777" stroke-width="0.8"/>
<g transform="translate(216.3 472.3) scale(1.0065 1.0007)"><g clip-path="url(#kP)">
<rect x="-1" y="-1" width="141.1" height="141.5" fill="#e2fa84"/>
<polygon points="28,104 40,100 50,104 60,112 61,115.5 81.7,112.4 102.4,114.5 123.2,113.4 141,112.4 141,141 50,141 40,130 30,120" fill="#dbf948"/>
<use href="#zTIB" fill="#f2fdd8"/>
<use href="#zNW" fill="#e2fa84"/>
<g clip-path="url(#kNW)">
<polygon points="-1,10 8,10 14,18 14,30 6,34 -1,32" fill="#f2fdd8"/>
<polygon points="18,36 26,32 30,38 24,44" fill="#f2fdd8"/>
</g>
<use href="#zIND" fill="#e2fa84"/>
<g clip-path="url(#kIND)">
<polygon points="33,8 38,6 41,8 44,11 47,13 52,12 55,10 58,11 61,15 57,18 54,22 56,24 53,28 50,28 46,24 42,20 38,16 34,12" fill="#eafbb0"/>
<polygon points="30,104 44,102 56,104 62,112 58,126 52,134 44,130 36,118" fill="#dbf948"/>
<polygon points="20,48 28,44 32,50 26,54" fill="#eafbb0"/>
</g>
<use href="#zNEP" fill="#e2fa84"/>
<use href="#zBHU" fill="#e2fa84"/>
<use href="#zNE" fill="#e2fa84"/>
<use href="#zSL" fill="#dbf948"/>
<use href="#ol"/>
</g></g>
<rect x="216.3" y="472.3" width="140.0" height="139.6" fill="none" stroke="#777" stroke-width="0.8"/>
<g transform="translate(375.4 472.3) scale(1.0058 1.0007)"><g clip-path="url(#kP)">
<rect x="-1" y="-1" width="141.1" height="141.5" fill="#f2fdd8"/>
<polygon points="-1,126 20,120 32,113 50,112 64,107 90,104 107,109 115,119 141,122 141,141 -1,141" fill="#e2fa84"/>
<use href="#zTIB" fill="#f2fdd8"/>
<use href="#zNW" fill="#f2fdd8"/>
<g clip-path="url(#kNW)">
<polyline points="4,46 6,38 10,30 14,24" fill="none" stroke="#e2fa84" stroke-width="2.0" stroke-linejoin="round" stroke-linecap="round"/>
</g>
<use href="#zIND" fill="#f2fdd8"/>
<g clip-path="url(#kIND)">
<polygon points="33,8 38,6 41,8 44,11 47,13 52,12 55,10 58,11 61,15 57,18 54,22 56,24 53,28 50,28 46,24 42,20 38,16 34,12" fill="#f2fdd8"/>
<polygon points="36,22 44,30 52,34 58,38 60,42 52,40 44,36 38,30" fill="#e2fa84"/>
<polygon points="40,120 46,110 52,100 58,96 66,92 76,86 86,80 94,74 96,72 66,97 60,100 58,115 52,130 46,132" fill="#e2fa84"/>
<polygon points="56,70 66,66 76,66 84,70 78,76 66,76" fill="#e2fa84"/>
</g>
<use href="#zNEP" fill="#e2fa84"/>
<use href="#zBHU" fill="#e2fa84"/>
<use href="#zNE" fill="#e2fa84"/>
<g clip-path="url(#kNE)">
<polygon points="95,53 102,54 106,58 108,64 106,70 100,72 96,72 95,60" fill="#f2fdd8"/>
</g>
<use href="#zSL" fill="#e2fa84"/>
<use href="#ol"/>
</g></g>
<rect x="375.4" y="472.3" width="139.9" height="139.6" fill="none" stroke="#777" stroke-width="0.8"/>
<g transform="translate(533.2 472.3) scale(1.0000 1.0007)"><g clip-path="url(#kP)">
<rect x="-1" y="-1" width="141.1" height="141.5" fill="#dbf948"/>
<polygon points="-1,57 2,59 4,62 6,64 9,64 12,72 18,78 26,80 -1,82" fill="#e2fa84"/>
<use href="#zTIB" fill="#f2fdd8"/>
<use href="#zNW" fill="#f2fdd8"/>
<g clip-path="url(#kNW)">
<polygon points="14,48 20,46 22,56 18,60 12,56" fill="#e2fa84"/>
</g>
<use href="#zIND" fill="#e2fa84"/>
<g clip-path="url(#kIND)">
<polygon points="33,8 38,6 41,8 44,11 47,13 52,12 55,10 58,11 61,15 57,18 54,22 56,24 53,28 50,28 46,24 42,20 38,16 34,12" fill="#eafbb0"/>
<polygon points="16,44 24,40 34,42 42,46 46,54 44,62 36,64 26,62 18,58" fill="#f2fdd8"/>
<polygon points="30,86 40,84 52,88 56,96 50,104 40,104 32,96" fill="#eafbb0"/>
</g>
<use href="#zNEP" fill="#e2fa84"/>
<use href="#zBHU" fill="#e2fa84"/>
<use href="#zNE" fill="#e2fa84"/>
<use href="#zSL" fill="#dbf948"/>
<use href="#ol"/>
</g></g>
<rect x="533.2" y="472.3" width="139.1" height="139.6" fill="none" stroke="#777" stroke-width="0.8"/>
<rect x="39.4" y="472.3" width="16.1" height="139.6" fill="#fff" stroke="#777" stroke-width="0.8"/>
<text x="0" y="0" transform="translate(51.8 542.1) rotate(-90)" text-anchor="middle" font-size="10.2" font-weight="bold" fill="#1a1a1a">DJF</text>
<line x1="37" x2="39.4" y1="487.3" y2="487.3" stroke="#333" stroke-width="0.8"/>
<text x="34.6" y="490.5" text-anchor="end" font-size="8.8" fill="#4d4d4d">35°N</text>
<line x1="37" x2="39.4" y1="509.2" y2="509.2" stroke="#333" stroke-width="0.8"/>
<text x="34.6" y="512.4" text-anchor="end" font-size="8.8" fill="#4d4d4d">30°N</text>
<line x1="37" x2="39.4" y1="531.0" y2="531.0" stroke="#333" stroke-width="0.8"/>
<text x="34.6" y="534.2" text-anchor="end" font-size="8.8" fill="#4d4d4d">25°N</text>
<line x1="37" x2="39.4" y1="552.9" y2="552.9" stroke="#333" stroke-width="0.8"/>
<text x="34.6" y="556.1" text-anchor="end" font-size="8.8" fill="#4d4d4d">20°N</text>
<line x1="37" x2="39.4" y1="574.7" y2="574.7" stroke="#333" stroke-width="0.8"/>
<text x="34.6" y="577.9" text-anchor="end" font-size="8.8" fill="#4d4d4d">15°N</text>
<line x1="37" x2="39.4" y1="596.6" y2="596.6" stroke="#333" stroke-width="0.8"/>
<text x="34.6" y="599.8" text-anchor="end" font-size="8.8" fill="#4d4d4d">10°N</text>
<line x1="62.2" x2="62.2" y1="611.9" y2="614.2" stroke="#333" stroke-width="0.8"/>
<text x="62.2" y="622.8" text-anchor="middle" font-size="8.8" fill="#4d4d4d">68°E</text>
<line x1="106.7" x2="106.7" y1="611.9" y2="614.2" stroke="#333" stroke-width="0.8"/>
<text x="106.7" y="622.8" text-anchor="middle" font-size="8.8" fill="#4d4d4d">78°E</text>
<line x1="151.2" x2="151.2" y1="611.9" y2="614.2" stroke="#333" stroke-width="0.8"/>
<text x="151.2" y="622.8" text-anchor="middle" font-size="8.8" fill="#4d4d4d">88°E</text>
<line x1="195.7" x2="195.7" y1="611.9" y2="614.2" stroke="#333" stroke-width="0.8"/>
<text x="195.7" y="622.8" text-anchor="middle" font-size="8.8" fill="#4d4d4d">98°E</text>
<text x="125.6" y="633.7" text-anchor="middle" font-size="9.6" font-weight="bold" fill="#1a1a1a">Longitude</text>
<rect x="68.40" y="641.1" width="11.74" height="11.3" fill="#f3fcd9"/>
<rect x="79.84" y="641.1" width="11.74" height="11.3" fill="#e0f880"/>
<rect x="91.28" y="641.1" width="11.74" height="11.3" fill="#d8f840"/>
<rect x="102.72" y="641.1" width="11.74" height="11.3" fill="#f2ec60"/>
<rect x="114.16" y="641.1" width="11.74" height="11.3" fill="#e8b060"/>
<rect x="125.60" y="641.1" width="11.74" height="11.3" fill="#e08840"/>
<rect x="137.04" y="641.1" width="11.74" height="11.3" fill="#f03c60"/>
<rect x="148.48" y="641.1" width="11.74" height="11.3" fill="#a860b0"/>
<rect x="159.92" y="641.1" width="11.74" height="11.3" fill="#8080f0"/>
<rect x="171.36" y="641.1" width="11.74" height="11.3" fill="#a0b4fc"/>
<text x="68.9" y="663.9" text-anchor="middle" font-size="8.2" font-weight="bold" fill="#1a1a1a">0</text>
<text x="91.8" y="663.9" text-anchor="middle" font-size="8.2" font-weight="bold" fill="#1a1a1a">0.8</text>
<text x="114.7" y="663.9" text-anchor="middle" font-size="8.2" font-weight="bold" fill="#1a1a1a">1.6</text>
<text x="137.5" y="663.9" text-anchor="middle" font-size="8.2" font-weight="bold" fill="#1a1a1a">2.4</text>
<text x="160.4" y="663.9" text-anchor="middle" font-size="8.2" font-weight="bold" fill="#1a1a1a">3.2</text>
<text x="183.3" y="663.9" text-anchor="middle" font-size="8.2" font-weight="bold" fill="#1a1a1a">4</text>
<line x1="223.0" x2="223.0" y1="611.9" y2="614.2" stroke="#333" stroke-width="0.8"/>
<text x="223.0" y="622.8" text-anchor="middle" font-size="8.8" fill="#4d4d4d">68°E</text>
<line x1="267.4" x2="267.4" y1="611.9" y2="614.2" stroke="#333" stroke-width="0.8"/>
<text x="267.4" y="622.8" text-anchor="middle" font-size="8.8" fill="#4d4d4d">78°E</text>
<line x1="311.9" x2="311.9" y1="611.9" y2="614.2" stroke="#333" stroke-width="0.8"/>
<text x="311.9" y="622.8" text-anchor="middle" font-size="8.8" fill="#4d4d4d">88°E</text>
<line x1="356.3" x2="356.3" y1="611.9" y2="614.2" stroke="#333" stroke-width="0.8"/>
<text x="356.3" y="622.8" text-anchor="middle" font-size="8.8" fill="#4d4d4d">98°E</text>
<text x="286.3" y="633.7" text-anchor="middle" font-size="9.6" font-weight="bold" fill="#1a1a1a">Longitude</text>
<rect x="229.10" y="641.1" width="11.74" height="11.3" fill="#f3fcd9"/>
<rect x="240.54" y="641.1" width="11.74" height="11.3" fill="#e0f880"/>
<rect x="251.98" y="641.1" width="11.74" height="11.3" fill="#d8f840"/>
<rect x="263.42" y="641.1" width="11.74" height="11.3" fill="#f2ec60"/>
<rect x="274.86" y="641.1" width="11.74" height="11.3" fill="#e8b060"/>
<rect x="286.30" y="641.1" width="11.74" height="11.3" fill="#e08840"/>
<rect x="297.74" y="641.1" width="11.74" height="11.3" fill="#f03c60"/>
<rect x="309.18" y="641.1" width="11.74" height="11.3" fill="#a860b0"/>
<rect x="320.62" y="641.1" width="11.74" height="11.3" fill="#8080f0"/>
<rect x="332.06" y="641.1" width="11.74" height="11.3" fill="#a0b4fc"/>
<text x="229.6" y="663.9" text-anchor="middle" font-size="8.2" font-weight="bold" fill="#1a1a1a">0</text>
<text x="252.5" y="663.9" text-anchor="middle" font-size="8.2" font-weight="bold" fill="#1a1a1a">0.8</text>
<text x="275.4" y="663.9" text-anchor="middle" font-size="8.2" font-weight="bold" fill="#1a1a1a">1.6</text>
<text x="298.2" y="663.9" text-anchor="middle" font-size="8.2" font-weight="bold" fill="#1a1a1a">2.4</text>
<text x="321.1" y="663.9" text-anchor="middle" font-size="8.2" font-weight="bold" fill="#1a1a1a">3.2</text>
<text x="344.0" y="663.9" text-anchor="middle" font-size="8.2" font-weight="bold" fill="#1a1a1a">4</text>
<line x1="382.1" x2="382.1" y1="611.9" y2="614.2" stroke="#333" stroke-width="0.8"/>
<text x="382.1" y="622.8" text-anchor="middle" font-size="8.8" fill="#4d4d4d">68°E</text>
<line x1="426.5" x2="426.5" y1="611.9" y2="614.2" stroke="#333" stroke-width="0.8"/>
<text x="426.5" y="622.8" text-anchor="middle" font-size="8.8" fill="#4d4d4d">78°E</text>
<line x1="470.9" x2="470.9" y1="611.9" y2="614.2" stroke="#333" stroke-width="0.8"/>
<text x="470.9" y="622.8" text-anchor="middle" font-size="8.8" fill="#4d4d4d">88°E</text>
<line x1="515.3" x2="515.3" y1="611.9" y2="614.2" stroke="#333" stroke-width="0.8"/>
<text x="515.3" y="622.8" text-anchor="middle" font-size="8.8" fill="#4d4d4d">98°E</text>
<text x="445.3" y="633.7" text-anchor="middle" font-size="9.6" font-weight="bold" fill="#1a1a1a">Longitude</text>
<rect x="388.15" y="641.1" width="11.74" height="11.3" fill="#f3fcd9"/>
<rect x="399.59" y="641.1" width="11.74" height="11.3" fill="#e0f880"/>
<rect x="411.03" y="641.1" width="11.74" height="11.3" fill="#d8f840"/>
<rect x="422.47" y="641.1" width="11.74" height="11.3" fill="#f2ec60"/>
<rect x="433.91" y="641.1" width="11.74" height="11.3" fill="#e8b060"/>
<rect x="445.35" y="641.1" width="11.74" height="11.3" fill="#e08840"/>
<rect x="456.79" y="641.1" width="11.74" height="11.3" fill="#f03c60"/>
<rect x="468.23" y="641.1" width="11.74" height="11.3" fill="#a860b0"/>
<rect x="479.67" y="641.1" width="11.74" height="11.3" fill="#8080f0"/>
<rect x="491.11" y="641.1" width="11.74" height="11.3" fill="#a0b4fc"/>
<text x="388.6" y="663.9" text-anchor="middle" font-size="8.2" font-weight="bold" fill="#1a1a1a">0</text>
<text x="411.5" y="663.9" text-anchor="middle" font-size="8.2" font-weight="bold" fill="#1a1a1a">0.8</text>
<text x="434.4" y="663.9" text-anchor="middle" font-size="8.2" font-weight="bold" fill="#1a1a1a">1.6</text>
<text x="457.3" y="663.9" text-anchor="middle" font-size="8.2" font-weight="bold" fill="#1a1a1a">2.4</text>
<text x="480.2" y="663.9" text-anchor="middle" font-size="8.2" font-weight="bold" fill="#1a1a1a">3.2</text>
<text x="503.0" y="663.9" text-anchor="middle" font-size="8.2" font-weight="bold" fill="#1a1a1a">4</text>
<line x1="539.8" x2="539.8" y1="611.9" y2="614.2" stroke="#333" stroke-width="0.8"/>
<text x="539.8" y="622.8" text-anchor="middle" font-size="8.8" fill="#4d4d4d">68°E</text>
<line x1="584.0" x2="584.0" y1="611.9" y2="614.2" stroke="#333" stroke-width="0.8"/>
<text x="584.0" y="622.8" text-anchor="middle" font-size="8.8" fill="#4d4d4d">78°E</text>
<line x1="628.1" x2="628.1" y1="611.9" y2="614.2" stroke="#333" stroke-width="0.8"/>
<text x="628.1" y="622.8" text-anchor="middle" font-size="8.8" fill="#4d4d4d">88°E</text>
<line x1="672.3" x2="672.3" y1="611.9" y2="614.2" stroke="#333" stroke-width="0.8"/>
<text x="672.3" y="622.8" text-anchor="middle" font-size="8.8" fill="#4d4d4d">98°E</text>
<text x="602.8" y="633.7" text-anchor="middle" font-size="9.6" font-weight="bold" fill="#1a1a1a">Longitude</text>
<rect x="545.55" y="641.1" width="11.74" height="11.3" fill="#f3fcd9"/>
<rect x="556.99" y="641.1" width="11.74" height="11.3" fill="#e0f880"/>
<rect x="568.43" y="641.1" width="11.74" height="11.3" fill="#d8f840"/>
<rect x="579.87" y="641.1" width="11.74" height="11.3" fill="#f2ec60"/>
<rect x="591.31" y="641.1" width="11.74" height="11.3" fill="#e8b060"/>
<rect x="602.75" y="641.1" width="11.74" height="11.3" fill="#e08840"/>
<rect x="614.19" y="641.1" width="11.74" height="11.3" fill="#f03c60"/>
<rect x="625.63" y="641.1" width="11.74" height="11.3" fill="#a860b0"/>
<rect x="637.07" y="641.1" width="11.74" height="11.3" fill="#8080f0"/>
<rect x="648.51" y="641.1" width="11.74" height="11.3" fill="#a0b4fc"/>
<text x="546.0" y="663.9" text-anchor="middle" font-size="8.2" font-weight="bold" fill="#1a1a1a">0</text>
<text x="568.9" y="663.9" text-anchor="middle" font-size="8.2" font-weight="bold" fill="#1a1a1a">0.1</text>
<text x="591.8" y="663.9" text-anchor="middle" font-size="8.2" font-weight="bold" fill="#1a1a1a">0.2</text>
<text x="614.7" y="663.9" text-anchor="middle" font-size="8.2" font-weight="bold" fill="#1a1a1a">0.3</text>
<text x="637.6" y="663.9" text-anchor="middle" font-size="8.2" font-weight="bold" fill="#1a1a1a">0.4</text>
<text x="660.4" y="663.9" text-anchor="middle" font-size="8.2" font-weight="bold" fill="#1a1a1a">0.5</text>
<text x="0" y="0" transform="translate(11.3 325.5) rotate(-90)" text-anchor="middle" font-size="9.6" font-weight="bold" fill="#1a1a1a">Latitude</text>
<text x="55.0" y="14.7" font-size="10.5" font-weight="bold" text-anchor="start" fill="#1a1a1a">(A)</text>
<text x="214.8" y="14.7" font-size="10.5" font-weight="bold" text-anchor="start" fill="#1a1a1a">(B)</text>
<text x="374.6" y="14.7" font-size="10.5" font-weight="bold" text-anchor="start" fill="#1a1a1a">(C)</text>
<text x="531.6" y="14.7" font-size="10.5" font-weight="bold" text-anchor="start" fill="#1a1a1a">(D)</text>
<line x1="94.6" x2="101.0" y1="17.7" y2="17.7" stroke="#1a1a1a" stroke-width="0.9"/>
<text x="106.5" y="14.6" font-size="9.3" text-anchor="middle" fill="#1a1a1a">1</text>
<line x1="103.4" x2="109.7" y1="18.3" y2="18.3" stroke="#1a1a1a" stroke-width="0.75"/>
<text x="106.7" y="27.5" font-size="9.2" font-weight="bold" text-anchor="middle" fill="#1a1a1a">g</text>
<path d="M115.6,7.4 C115.0,6.0 112.9,6.4 112.9,8.7 L112.9,27.1 C112.9,29.4 111.0,29.8 110.4,28.4" fill="none" stroke="#1a1a1a" stroke-width="0.95"/>
<text x="116.3" y="21.0" font-size="10.5" text-anchor="start" fill="#1a1a1a">(</text>
<path d="M121.3,14.3 L126.5,14.3 L123.9,19.7 Z" fill="none" stroke="#1a1a1a" stroke-width="1.05" stroke-linejoin="miter"/>
<path d="M128.2,14.4 L132.4,14.4 L130.3,19.6 Z" fill="none" stroke="#1a1a1a" stroke-width="1.5" stroke-linejoin="miter"/>
<text x="133.4" y="20.0" font-size="10.2" font-weight="bold" text-anchor="start" fill="#1a1a1a">q</text>
<text x="140.3" y="21.0" font-size="10.5" text-anchor="start" fill="#1a1a1a">)</text>
<text x="145.2" y="20.0" font-size="10.2" font-weight="bold" text-anchor="start" fill="#1a1a1a">dp</text>
<line x1="254.4" x2="260.7" y1="17.7" y2="17.7" stroke="#1a1a1a" stroke-width="0.9"/>
<text x="266.6" y="13.8" font-size="9.3" text-anchor="middle" fill="#1a1a1a">1</text>
<line x1="263.3" x2="269.6" y1="18.2" y2="18.2" stroke="#1a1a1a" stroke-width="0.75"/>
<text x="266.3" y="27.0" font-size="9.2" font-weight="bold" text-anchor="middle" fill="#1a1a1a">g</text>
<path d="M275.3,7.2 C274.7,5.8 272.6,6.2 272.6,8.5 L272.6,27.3 C272.6,29.6 270.7,30.0 270.1,28.6" fill="none" stroke="#1a1a1a" stroke-width="0.95"/>
<text x="275.9" y="21.0" font-size="10.5" text-anchor="start" fill="#1a1a1a">(</text>
<text x="290.8" y="13.6" font-size="9.8" font-weight="bold" text-anchor="middle" fill="#1a1a1a">∂ωq</text>
<line x1="280.4" x2="301.4" y1="18.2" y2="18.2" stroke="#1a1a1a" stroke-width="0.75"/>
<text x="290.8" y="26.5" font-size="9.2" font-weight="bold" text-anchor="middle" fill="#1a1a1a">∂p</text>
<text x="301.4" y="21.0" font-size="10.5" text-anchor="start" fill="#1a1a1a">)</text>
<text x="306.2" y="20.0" font-size="10.2" font-weight="bold" text-anchor="start" fill="#1a1a1a">dp</text>
<line x1="390.1" x2="395.9" y1="16.6" y2="16.6" stroke="#1a1a1a" stroke-width="0.9"/>
<text x="402.5" y="11.4" font-size="9.3" text-anchor="middle" fill="#1a1a1a">1</text>
<line x1="399.2" x2="405.8" y1="17.2" y2="17.2" stroke="#1a1a1a" stroke-width="0.75"/>
<text x="401.8" y="28.0" font-size="9.2" font-weight="bold" text-anchor="middle" fill="#1a1a1a">g</text>
<path d="M411.3,5.0 C410.7,3.6 408.6,4.0 408.6,6.3 L408.6,27.1 C408.6,29.4 406.7,29.8 406.1,28.4" fill="none" stroke="#1a1a1a" stroke-width="0.95"/>
<path d="M416.6,0.3 C414.20000000000005,0.3 414.20000000000005,1.3 414.20000000000005,3.3 L414.20000000000005,13.950000000000001 C414.20000000000005,15.450000000000001 413.40000000000003,15.950000000000001 412.6,15.950000000000001 C413.40000000000003,15.950000000000001 414.20000000000005,16.450000000000003 414.20000000000005,17.950000000000003 L414.20000000000005,28.6 C414.20000000000005,30.6 414.20000000000005,31.6 416.6,31.6" fill="none" stroke="#1a1a1a" stroke-width="0.9"/>
<path d="M419.6,13.0 L424.6,13.0 L422.1,18.8 Z" fill="none" stroke="#1a1a1a" stroke-width="1.05" stroke-linejoin="miter"/>
<path d="M426.8,13.1 L430.9,13.1 L428.85,18.7 Z" fill="none" stroke="#1a1a1a" stroke-width="1.5" stroke-linejoin="miter"/>
<text x="434.2" y="19.0" font-size="10.2" font-weight="bold" text-anchor="middle" fill="#1a1a1a">·</text>
<text x="438.2" y="19.0" font-size="10.2" font-weight="bold" text-anchor="start" fill="#1a1a1a">q</text>
<text x="453.2" y="19.6" font-size="10.5" text-anchor="middle" fill="#1a1a1a">+</text>
<text x="469.8" y="12.0" font-size="9.8" font-weight="bold" text-anchor="middle" fill="#1a1a1a">∂ωq</text>
<line x1="459.2" x2="480.5" y1="17.1" y2="17.1" stroke="#1a1a1a" stroke-width="0.75"/>
<text x="469.8" y="27.0" font-size="9.2" font-weight="bold" text-anchor="middle" fill="#1a1a1a">∂p</text>
<path d="M481.8,0.3 C484.2,0.3 484.2,1.3 484.2,3.3 L484.2,13.950000000000001 C484.2,15.450000000000001 485.0,15.950000000000001 485.8,15.950000000000001 C485.0,15.950000000000001 484.2,16.450000000000003 484.2,17.950000000000003 L484.2,28.6 C484.2,30.6 484.2,31.6 481.8,31.6" fill="none" stroke="#1a1a1a" stroke-width="0.9"/>
<text x="488.2" y="19.6" font-size="10.2" font-weight="bold" text-anchor="start" fill="#1a1a1a">dp</text>
<text x="581.9" y="13.4" font-size="9.3" text-anchor="middle" fill="#1a1a1a">1</text>
<line x1="578.4" x2="585.4" y1="18.2" y2="18.2" stroke="#1a1a1a" stroke-width="0.75"/>
<text x="581.2" y="27.8" font-size="9.2" font-weight="bold" text-anchor="middle" fill="#1a1a1a">g</text>
<path d="M591.1,7.2 C590.5,5.8 588.4,6.2 588.4,8.5 L588.4,28.1 C588.4,30.4 586.5,30.8 585.9,29.4" fill="none" stroke="#1a1a1a" stroke-width="0.95"/>
<text x="591.3" y="21.0" font-size="10.5" text-anchor="start" fill="#1a1a1a">(</text>
<text x="601.9" y="13.2" font-size="9.4" font-weight="bold" text-anchor="middle" fill="#1a1a1a">dq</text>
<line x1="595.0" x2="609.0" y1="18.2" y2="18.2" stroke="#1a1a1a" stroke-width="0.75"/>
<text x="601.8" y="28.0" font-size="9.4" font-weight="bold" text-anchor="middle" fill="#1a1a1a">dt</text>
<text x="609.6" y="21.0" font-size="10.5" text-anchor="start" fill="#1a1a1a">)</text>
<text x="613.6" y="20.0" font-size="10.2" font-weight="bold" text-anchor="start" fill="#1a1a1a">dp</text>
</svg></body></html>
